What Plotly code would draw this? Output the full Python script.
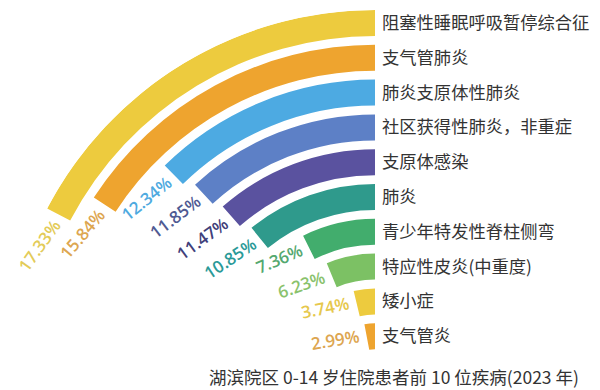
import math
import plotly.graph_objects as go

# ---- data ----
categories = ["阻塞性睡眠呼吸暂停综合征", "支气管肺炎", "肺炎支原体性肺炎", "社区获得性肺炎，非重症",
              "支原体感染", "肺炎", "青少年特发性脊柱侧弯", "特应性皮炎(中重度)", "矮小症", "支气管炎"]
values = [17.33, 15.84, 12.34, 11.85, 11.47, 10.85, 7.36, 6.23, 3.74, 2.99]
value_labels = ["17.33%", "15.84%", "12.34%", "11.85%", "11.47%", "10.85%", "7.36%", "6.23%", "3.74%", "2.99%"]
title_text = "湖滨院区 0-14 岁住院患者前 10 位疾病(2023 年)"

# ---- style ----
bar_colors = ["#EDCB3E", "#EEA42F", "#4DAAE2", "#5D80C6", "#5A529F",
              "#2F9A8C", "#42AD6D", "#7CC164", "#EDCB3E", "#EEA42F"]
label_colors = ["#E3CB58", "#DDA650", "#4FAADF", "#4F5A93", "#40407A",
                "#2A9A98", "#54A86F", "#8AC26C", "#E6C84C", "#DDA650"]

W, H = 600, 390
CX, CY = 375, 380          # pixel centre of the arcs
R = 370                    # outer radius of plot area (px)
STEP, THICK = 34.8, 26

outer = [R - STEP * i for i in range(len(values))]
inner = [o - THICK for o in outer]
mid = [o - THICK / 2 for o in outer]

dom_x = [(CX - R) / W, CX / W]
dom_y = [(H - CY) / H, (H - CY + R) / H]

fig = go.Figure()
fig.add_trace(go.Barpolar(
    r=[THICK] * len(values),
    base=inner,
    theta=[0] * len(values),
    offset=[0] * len(values),
    width=[v * 3.6 for v in values],
    marker=dict(color=bar_colors, line=dict(width=0)),
    hoverinfo="skip",
    showlegend=False,
))

# invisible cartesian overlay for labels
fig.add_trace(go.Scatter(x=[-R, 0], y=[0, R], mode="markers",
                         marker=dict(opacity=0), hoverinfo="skip", showlegend=False))

annotations = []
for i, (v, txt) in enumerate(zip(values, value_labels)):
    th = math.radians(90 + v * 3.6)
    rm = mid[i] + 3
    ex, ey = rm * math.cos(th), rm * math.sin(th)
    tx, ty = -math.sin(th), math.cos(th)
    ndig = sum(c.isdigit() for c in txt)
    w = 9.9 * ndig + 4.8 + 14.3
    d = w / 2 + 7
    annotations.append(dict(
        x=ex + tx * d, y=ey + ty * d, xref="x", yref="y",
        text=txt, showarrow=False, textangle=-v * 3.6 * 0.87,
        xanchor="center", yanchor="middle",
        font=dict(family="Open Sans, Noto Sans", size=17, color=label_colors[i], weight=600),
    ))

annotations.append(dict(
    x=393.5 / W, y=0, xref="paper", yref="paper",
    text=title_text, showarrow=False, xanchor="center", yanchor="bottom",
    borderpad=0,
    font=dict(family="Noto Sans CJK SC", size=17.5, color="#333333"),
))

fig.update_layout(
    width=W, height=H,
    margin=dict(l=0, r=0, t=0, b=0),
    paper_bgcolor="white", plot_bgcolor="rgba(0,0,0,0)",
    polar=dict(
        domain=dict(x=dom_x, y=dom_y),
        sector=[90, 180],
        bgcolor="white",
        radialaxis=dict(range=[0, R], visible=False),
        angularaxis=dict(rotation=90, direction="counterclockwise", visible=False),
    ),
    xaxis=dict(domain=dom_x, range=[-R, 0], visible=False, fixedrange=True),
    yaxis=dict(domain=dom_y, range=[0, R], side="right", anchor="x",
               tickvals=mid, ticktext=categories, showgrid=False, zeroline=False,
               showline=False, ticks="", ticklabelstandoff=6,
               tickfont=dict(family="Noto Sans CJK SC", size=17.3, color="#333333")),
    annotations=annotations,
)

fig.write_html("out.html", config={"displayModeBar": False},
               post_script="document.body.style.margin='0';document.body.style.padding='0';")
